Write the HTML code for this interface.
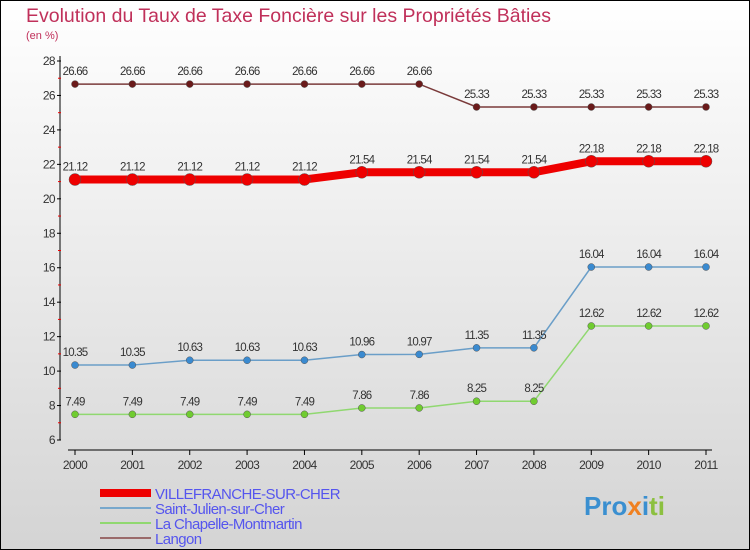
<!DOCTYPE html>
<html><head><meta charset="utf-8"><style>
body{margin:0}
#c{width:750px;height:550px;position:relative;overflow:hidden;font-family:"Liberation Sans",sans-serif}
svg text{font-family:"Liberation Sans",sans-serif}
</style></head><body>
<div id="c">
<svg id="s" width="750" height="550" xmlns="http://www.w3.org/2000/svg">
<defs><linearGradient id="bg" x1="0" y1="0" x2="0" y2="1"><stop offset="0" stop-color="#ffffff"/><stop offset="1" stop-color="#d4d4d4"/></linearGradient></defs>
<rect x="0.5" y="0.5" width="749" height="549" fill="url(#bg)" stroke="#000"/>
<text x="26" y="22" font-size="19.5" fill="#c0305a">Evolution du Taux de Taxe Foncière sur les Propriétés Bâties</text>
<text x="26" y="39" font-size="11" fill="#c0305a">(en %)</text>
<g id="axes"></g><g id="series"></g><g id="legend"></g>
<text x="584" y="515" font-size="26" font-weight="bold"><tspan fill="#3a8fd0">Pro</tspan><tspan fill="#f08020">x</tspan><tspan fill="#3a8fd0">i</tspan><tspan fill="#8cc040">ti</tspan></text>
</svg></div>
<script>
const years=[2000,2001,2002,2003,2004,2005,2006,2007,2008,2009,2010,2011];
const yTicks=[6,8,10,12,14,16,18,20,22,24,26,28];
const villefranche=[21.12,21.12,21.12,21.12,21.12,21.54,21.54,21.54,21.54,22.18,22.18,22.18];
const saintJulien=[10.35,10.35,10.63,10.63,10.63,10.96,10.97,11.35,11.35,16.04,16.04,16.04];
const chapelle=[7.49,7.49,7.49,7.49,7.49,7.86,7.86,8.25,8.25,12.62,12.62,12.62];
const langon=[26.66,26.66,26.66,26.66,26.66,26.66,26.66,25.33,25.33,25.33,25.33,25.33];
const seriesNames=["VILLEFRANCHE-SUR-CHER","Saint-Julien-sur-Cher","La Chapelle-Montmartin","Langon"];
const NS="http://www.w3.org/2000/svg";
const x=i=>75+i*(706-75)/(years.length-1);
const y=v=>440-(v-6)*(440-61)/22;
function mk(tag,attrs,parent,txt){const e=document.createElementNS(NS,tag);for(const k in attrs)e.setAttribute(k,attrs[k]);if(txt!==undefined)e.textContent=txt;parent.appendChild(e);return e;}
const ax=document.getElementById('axes');
let e=mk('line',{x1:60,y1:56,x2:60,y2:440,stroke:'#000'},ax);


e=mk('line',{x1:68,y1:450,x2:712,y2:450,stroke:'#000'},ax);


yTicks.forEach(t=>{
 mk('line',{x1:57,y1:y(t),x2:61,y2:y(t),stroke:'#000'},ax);
 if(t<28) mk('line',{x1:58,y1:y(t+1),x2:61,y2:y(t+1),stroke:'#e00'},ax);
 const l=mk('text',{x:55,y:y(t)+4,'font-size':12,'text-anchor':'end',fill:'#333','letter-spacing':'-0.6'},ax,String(t));
 
 
});
years.forEach((yr,i)=>{
 mk('line',{x1:x(i),y1:450,x2:x(i),y2:455,stroke:'#000'},ax);
 const l=mk('text',{x:x(i),y:469,'font-size':12,'text-anchor':'middle',fill:'#333','letter-spacing':'-0.6'},ax,String(yr));
 
 
});
const sg=document.getElementById('series');
function draw(vals,color,w,r,name,dot){
 const g=mk('g',{},sg);
 
 
 mk('polyline',{points:vals.map((v,i)=>x(i)+','+y(v)).join(' '),fill:'none',stroke:color,'stroke-width':w},g);
 vals.forEach((v,i)=>{
  const c=mk('circle',{cx:x(i),cy:y(v),r:r,fill:dot,stroke:'#555','stroke-width':0.5},g);
  
  
  const t=mk('text',{x:x(i),y:y(v)-9,'font-size':11.5,'text-anchor':'middle',fill:'#333','letter-spacing':'-0.8'},g,String(v));
  
  
 });
}
draw(langon,'#7a3a3a',1.5,3.5,'langon','#6a1a1a');
draw(villefranche,'#ee0000',8,6,'villefranche','#ee0000');
draw(saintJulien,'#6a9ec8',1.5,3.5,'saint-julien','#3a8ad0');
draw(chapelle,'#90d870',1.5,3.5,'chapelle','#70cc30');
const lg=document.getElementById('legend');
const lc=[['#ee0000',8],['#78a8cc',2],['#90d870',2],['#9a6a6a',2]];
seriesNames.forEach((n,i)=>{
 const yy=493+i*15;
 const ln=mk('line',{x1:100,y1:yy,x2:151,y2:yy,stroke:lc[i][0],'stroke-width':lc[i][1]},lg);
 
 
 const t=mk('text',{x:155,y:yy+6,'font-size':15,fill:'#5555ee','letter-spacing':'-0.6'},lg,n);
 
 
});
</script>
</body></html>
